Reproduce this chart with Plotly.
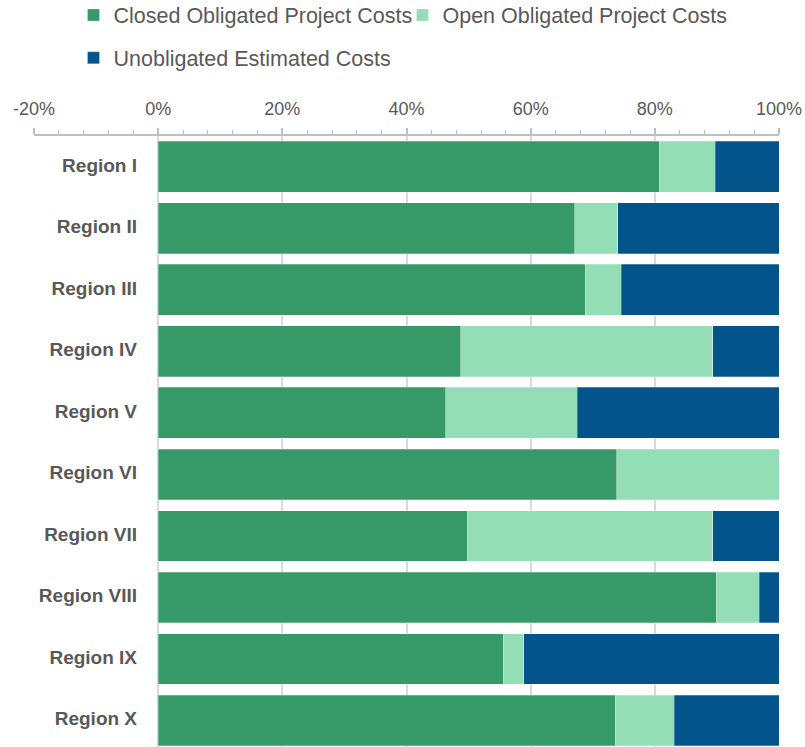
import plotly.graph_objects as go

regions = ["Region I", "Region II", "Region III", "Region IV", "Region V",
           "Region VI", "Region VII", "Region VIII", "Region IX", "Region X"]
closed = [80.7, 67.1, 68.8, 48.7, 46.3, 73.9, 49.8, 89.9, 55.6, 73.6]
open_ = [9.0, 6.9, 5.8, 40.6, 21.2, 26.1, 39.5, 6.9, 3.3, 9.5]
unobligated = [10.3, 26.0, 25.4, 10.7, 32.5, 0.0, 10.7, 3.2, 41.1, 16.9]
tick_vals = [-20, 0, 20, 40, 60, 80, 100]
tick_text = ["-20%", "0%", "20%", "40%", "60%", "80%", "100%"]

FONT = "Liberation Sans, Arial, sans-serif"
GRAY = "#595959"

fig = go.Figure()
series = [
    ("Closed Obligated Project Costs", closed, "#359A68", "legend"),
    ("Open Obligated Project Costs", open_, "#93DDB7", "legend"),
    ("Unobligated Estimated Costs", unobligated, "#02548A", "legend2"),
]
for name, vals, color, leg in series:
    fig.add_trace(go.Bar(
        y=regions, x=vals, name=name, orientation="h",
        marker=dict(color=color, line=dict(color="rgba(255,255,255,0.35)", width=0.75)),
        legend=leg,
    ))

fig.add_trace(go.Scatter(
    y=regions, x=[-3.4] * len(regions), mode="text", text=regions,
    textposition="middle left", showlegend=False,
    textfont=dict(family=FONT, size=19, color=GRAY, weight="bold"),
    hoverinfo="skip",
))

fig.update_layout(
    width=805, height=747,
    margin=dict(l=33.5, r=25.5, t=136, b=0, autoexpand=False),
    barmode="stack", bargap=0.174,
    plot_bgcolor="white", paper_bgcolor="white",
    font=dict(family=FONT, color=GRAY),
    legend=dict(orientation="h", x=0.053, xanchor="left", y=1.198, yanchor="middle",
                font=dict(size=21.5, color=GRAY), entrywidth=284, entrywidthmode="pixels",
                bgcolor="rgba(0,0,0,0)", traceorder="normal"),
    legend2=dict(orientation="h", x=0.053, xanchor="left", y=1.128, yanchor="middle",
                 font=dict(size=21.5, color=GRAY), bgcolor="rgba(0,0,0,0)"),
    xaxis=dict(
        range=[-20, 100], side="top", tickvals=tick_vals, ticktext=tick_text,
        showgrid=True, gridcolor="#D9D9D9", gridwidth=1.5,
        showline=True, linecolor="#BFBFBF", linewidth=1.5,
        ticks="outside", ticklen=6, tickcolor="#BFBFBF", tickwidth=1.5,
        tickfont=dict(size=18, color=GRAY), zeroline=False, ticklabelstandoff=6,
        minor=dict(dtick=4, tick0=0, ticks="outside", ticklen=4, tickcolor="#BFBFBF",
                   tickwidth=1, showgrid=False),
        fixedrange=True,
    ),
    yaxis=dict(
        autorange=False, range=[9.43, -0.5], showticklabels=False, ticks="",
        showgrid=False, zeroline=False, showline=False, fixedrange=True,
    ),
    showlegend=True,
)

fig.write_html("out.html", config={"displayModeBar": False},
               post_script="document.body.style.margin='0';")
